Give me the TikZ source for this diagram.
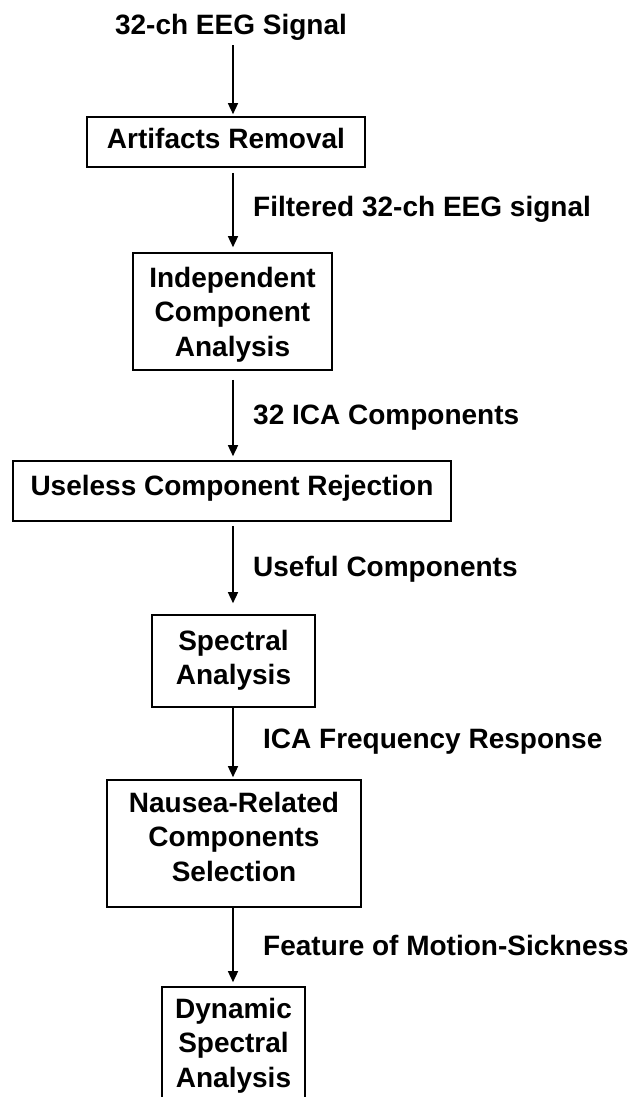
\documentclass[tikz,border=0pt]{standalone}
\usepackage{fontspec}
\setmainfont{Liberation Sans}
\usetikzlibrary{arrows.meta}

\tikzset{
  base font/.style={font=\fontsize{28}{34.5}\selectfont\bfseries},
  stage/.style={base font, draw=black, line width=1.6pt, inner xsep=0pt, inner ysep=0pt,
    anchor=base, align=center},
  flowlabel/.style={base font, inner sep=0pt, anchor=base west},
  flow/.style={line width=1.4pt, -{Triangle[width=10pt,length=11pt]}},
}
\newcommand{\lines}[1]{\begin{tabular}[t]{@{}c@{}}#1\end{tabular}}

\begin{document}
\begin{tikzpicture}[x=1pt, y=-1pt]
  \useasboundingbox (0,0) rectangle (640,1097);
  \fill[white] (0,0) rectangle (640,1097);
  \clip (0,0) rectangle (640,1097);

  % vertical axis of the flow
  \coordinate (spine) at (233,0);

  % input signal
  \node[base font, anchor=base, inner xsep=0pt, inner ysep=4pt, text depth=6pt]
    (title) at (231,35) {32-ch EEG Signal};

  % processing stages (anchored on the baseline of their first line)
  \node[stage, minimum width=278pt, text height=31pt, text depth=19pt]
    (art) at (226,148) {\lines{Artifacts Removal}};
  \node[stage, minimum width=199pt, text height=34pt, text depth=83pt]
    (ica) at (232.5,287) {\lines{Independent\\Component\\Analysis}};
  \node[stage, minimum width=438pt, text height=34pt, text depth=26pt]
    (rej) at (232,495) {\lines{Useless Component Rejection}};
  \node[stage, minimum width=163pt, text height=35pt, text depth=57pt]
    (spec) at (233.5,650) {\lines{Spectral\\Analysis}};
  \node[stage, minimum width=254pt, text height=32pt, text depth=95pt]
    (naus) at (234,812) {\lines{Nausea-Related\\Components\\Selection}};
  \node[stage, minimum width=143pt, text height=31pt, text depth=95pt]
    (dyn) at (233.5,1018) {\lines{Dynamic\\Spectral\\Analysis}};

  % data passed between stages
  \draw[flow, shorten >=2pt] (title.south -| spine) -- (art.north -| spine);
  \draw[flow, shorten <=5pt, shorten >=5pt] (art.south -| spine) -- (ica.north -| spine);
  \draw[flow, shorten <=9pt, shorten >=4pt] (ica.south -| spine) -- (rej.north -| spine);
  \draw[flow, shorten <=4pt, shorten >=11pt] (rej.south -| spine) -- (spec.north -| spine);
  \draw[flow, shorten >=2pt] (spec.south -| spine) -- (naus.north -| spine);
  \draw[flow, shorten >=4pt] (naus.south -| spine) -- (dyn.north -| spine);

  \node[flowlabel] (l1) at (253,216) {Filtered 32-ch EEG signal};
  \node[flowlabel] (l2) at (253,424) {32 ICA Components};
  \node[flowlabel] (l3) at (253,576) {Useful Components};
  \node[flowlabel] (l4) at (263,748) {ICA Frequency Response};
  \node[flowlabel] (l5) at (263,955) {Feature of Motion-Sickness};
\end{tikzpicture}
\end{document}
